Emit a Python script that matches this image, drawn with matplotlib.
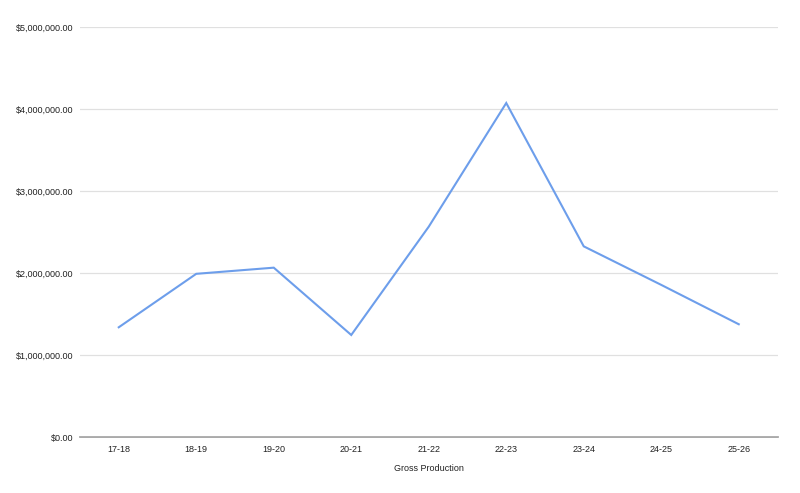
import matplotlib
matplotlib.use("Agg")
import matplotlib.pyplot as plt
from matplotlib.ticker import FuncFormatter

# --- Data ---
seasons = ["17-18", "18-19", "19-20", "20-21", "21-22", "22-23", "23-24", "24-25", "25-26"]
gross_production = [1338000, 1990000, 2065000, 1244000, 2565000, 4073000, 2325000, 1855000, 1375000]
y_ticks = [0, 1000000, 2000000, 3000000, 4000000, 5000000]

# --- Style ---
LINE_COLOR = "#6d9eeb"
GRID_COLOR = "#e0e0e0"
AXIS_COLOR = "#999999"
TEXT_COLOR = "#222222"
FONT = "Liberation Sans"

WIDTH, HEIGHT, DPI = 800, 493, 100

fig = plt.figure(figsize=(WIDTH / DPI, HEIGHT / DPI), dpi=DPI)
ax = fig.add_axes((80 / WIDTH, 1 - 437 / HEIGHT, 697.5 / WIDTH, 410 / HEIGHT))

x = list(range(len(seasons)))
ax.plot(x, gross_production, color=LINE_COLOR, linewidth=1.5, solid_joinstyle="miter")

ax.set_xlim(-0.5, len(seasons) - 0.5)
ax.set_ylim(0, 5000000)
ax.set_yticks(y_ticks)
ax.yaxis.set_major_formatter(FuncFormatter(lambda v, _: f"${v:,.2f}"))
ax.set_xticks(x)
ax.set_xticklabels(seasons)

ax.grid(axis="y", color=GRID_COLOR, linewidth=0.9)
ax.set_axisbelow(True)
for side in ("top", "right", "left"):
    ax.spines[side].set_visible(False)
ax.spines["bottom"].set_color(AXIS_COLOR)
ax.spines["bottom"].set_linewidth(1.2)
ax.spines["bottom"].set_zorder(0.5)

ax.tick_params(axis="both", length=0, labelsize=6.5, labelcolor=TEXT_COLOR)
ax.tick_params(axis="y", pad=5)
ax.tick_params(axis="x", pad=6)
for lbl in ax.get_xticklabels() + ax.get_yticklabels():
    lbl.set_fontfamily(FONT)

ax.set_xlabel("Gross Production", fontsize=6.5, color=TEXT_COLOR, fontfamily=FONT, labelpad=7)

fig.savefig("out.png", dpi=DPI, facecolor="white")
